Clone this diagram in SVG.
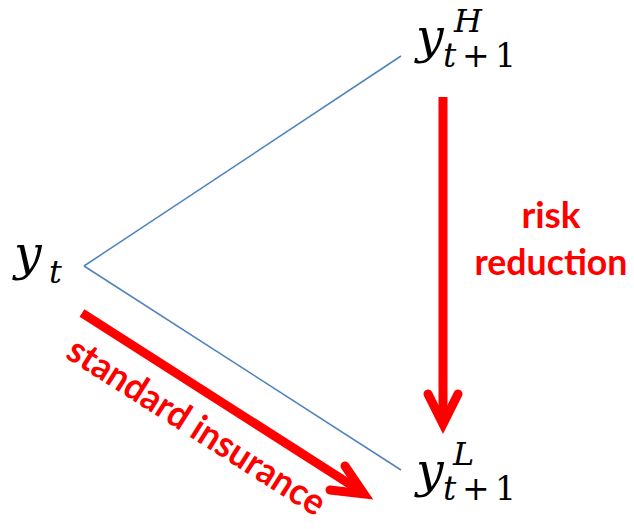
<svg xmlns="http://www.w3.org/2000/svg" width="634" height="529" viewBox="0 0 634 529">
<style>
.m{font-family:"DejaVu Serif","Liberation Serif",serif;font-style:italic;fill:#000}
.n{font-family:"DejaVu Serif","Liberation Serif",serif;font-style:normal;fill:#000}
.blue{stroke:#4F81BD;stroke-width:1.5;fill:none}
.red{stroke:#FF0000;stroke-width:9;fill:none;stroke-linecap:butt}
.head{stroke:#FF0000;stroke-width:9;fill:none;stroke-linecap:round;stroke-linejoin:miter}
.lbl{font-family:Lato,"Open Sans","Liberation Sans",sans-serif;font-weight:bold;font-size:37px;fill:#FF0000}
</style>
<rect width="634" height="529" fill="#fff"/>
<g id="connectors">
  <line class="blue" x1="84" y1="266" x2="401" y2="56"/>
  <line class="blue" x1="84" y1="266" x2="401" y2="470"/>
  <line class="red" x1="443" y1="97" x2="443" y2="420"/>
  <polyline class="head" points="428,394 443,424 458,394"/>
  <line class="red" x1="82" y1="313" x2="362" y2="492"/>
  <polyline class="head" points="345,466 364,494 330,490"/>
  <text class="lbl" x="551" y="228" text-anchor="middle">risk</text>
  <text class="lbl" x="551" y="275" text-anchor="middle" textLength="153" lengthAdjust="spacingAndGlyphs">reduction</text>
  <text class="lbl" transform="translate(190,437) rotate(32.5)" x="0" y="0" text-anchor="middle" textLength="298" lengthAdjust="spacingAndGlyphs">standard insurance</text>
</g>
<g id="node-yt">
  <text class="m" x="14" y="270" font-size="49">y</text>
  <text class="m" x="49" y="283" font-size="32">t</text>
</g>
<g id="node-yH">
  <text class="m" x="416" y="53" font-size="49">y</text>
  <text class="m" x="454" y="32" font-size="32">H</text>
  <text class="m" x="443" y="67" font-size="33">t</text>
  <text class="n" x="462" y="67" font-size="33">+</text>
  <text class="n" x="495" y="67" font-size="33">1</text>
</g>
<g id="node-yL">
  <text class="m" x="416" y="487" font-size="49">y</text>
  <text class="m" x="453" y="465" font-size="32">L</text>
  <text class="m" x="443" y="500" font-size="33">t</text>
  <text class="n" x="462" y="500" font-size="33">+</text>
  <text class="n" x="495" y="500" font-size="33">1</text>
</g>
</svg>
